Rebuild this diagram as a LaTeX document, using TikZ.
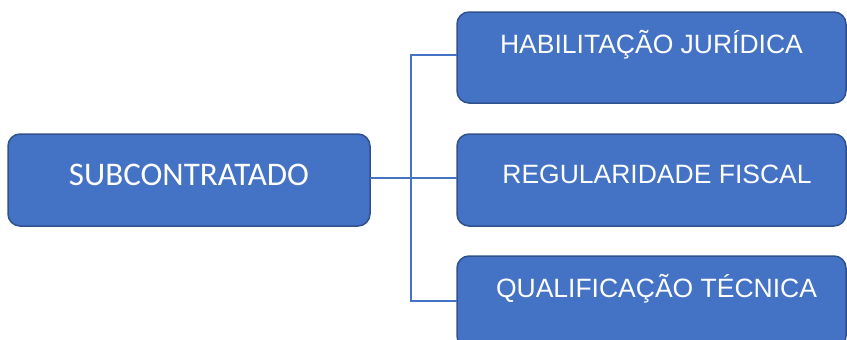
\documentclass[tikz,border=0pt]{standalone}
\usepackage{fontspec}
\setmainfont{Liberation Sans}
\newfontfamily\calibrilike{Carlito}
\definecolor{boxfill}{HTML}{4472C4}
\definecolor{boxedge}{HTML}{2F528F}
\definecolor{linkblue}{HTML}{4472C4}
\begin{document}
\begin{tikzpicture}[x=1pt,y=-1pt,
  card/.style={draw=boxedge, line width=1.5pt, fill=boxfill, rounded corners=12pt,
    inner sep=0pt, outer sep=0pt},
  label/.style={text=white, anchor=base, inner sep=0pt, font=\fontsize{26.5}{30}\selectfont},
  link/.style={draw=linkblue, line width=1.1pt}]
  \useasboundingbox (0,0) rectangle (847,340);
  \clip (0,0) rectangle (847,340);

  % boxes
  \node[card, minimum width=362pt, minimum height=92pt] (root) at (189,180) {};
  \node[card, minimum width=389pt, minimum height=91pt] (hab) at (651.5,57.5) {};
  \node[card, minimum width=389pt, minimum height=92pt] (reg) at (651.5,180) {};
  \node[card, minimum width=389pt, minimum height=92pt] (qual) at (651.5,302) {};

  % texts
  \node[label, font=\calibrilike\fontsize{33}{36}\selectfont] (troot) at (189,185) {SUBCONTRATADO};
  \node[label] (thab) at (651.5,53) {HABILITAÇÃO JURÍDICA};
  \node[label] (treg) at (657,183) {REGULARIDADE FISCAL};
  \node[label] (tqual) at (656.5,297) {QUALIFICAÇÃO TÉCNICA};

  % connectors: one trunk from the root, branching to each box
  \coordinate (fork) at (411,178);
  \coordinate (upper) at (411,55);
  \coordinate (lower) at (411,301);
  \draw[link] (root.east |- fork) -- (fork);
  \draw[link] (fork) -- (upper) -- (hab.west |- upper);
  \draw[link] (fork) -- (reg.west |- fork);
  \draw[link] (fork) -- (lower) -- (qual.west |- lower);
\end{tikzpicture}
\end{document}
